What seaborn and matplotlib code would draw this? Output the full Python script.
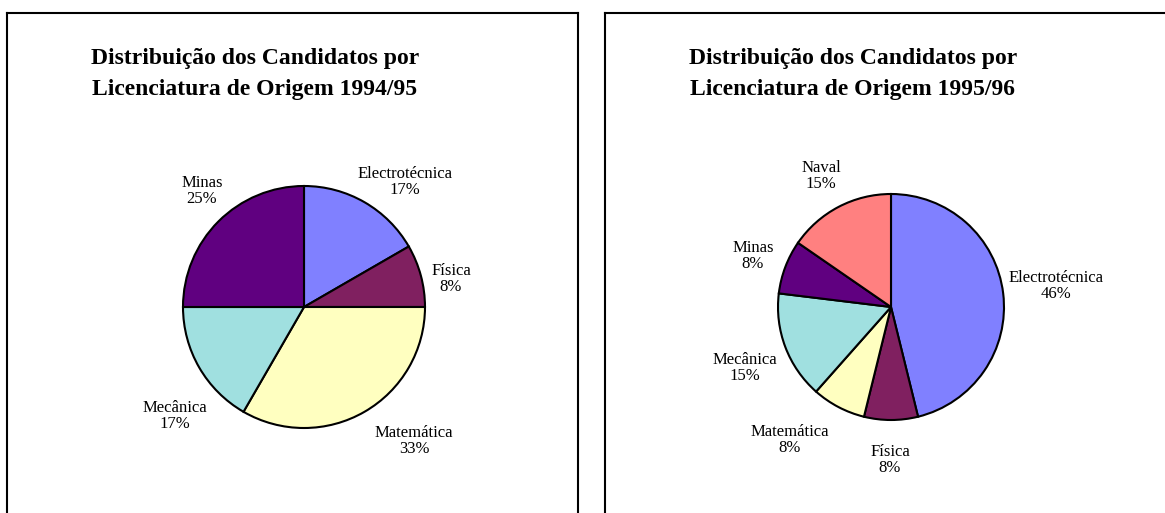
import matplotlib
matplotlib.use("Agg")
import matplotlib.pyplot as plt
import seaborn as sns

# dados
cursos_9495 = ['Electrotécnica', 'Física', 'Matemática', 'Mecânica', 'Minas']
cand_9495 = [2, 1, 4, 2, 3]
pct_9495 = ['17%', '8%', '33%', '17%', '25%']

cursos_9596 = ['Electrotécnica', 'Física', 'Matemática', 'Mecânica', 'Minas', 'Naval']
cand_9596 = [6, 1, 1, 2, 1, 2]
pct_9596 = ['46%', '8%', '8%', '15%', '8%', '15%']

titulos = ['Distribuição dos Candidatos por\nLicenciatura de Origem 1994/95',
           'Distribuição dos Candidatos por\nLicenciatura de Origem 1995/96']

# cores (paleta antiga do Excel)
cores = {'Electrotécnica': '#8080FF', 'Física': '#802060', 'Matemática': '#FFFFC0',
         'Mecânica': '#A0E0E0', 'Minas': '#600080', 'Naval': '#FF8080'}

sns.set_theme(style='white')
plt.rcParams['font.family'] = ['Liberation Serif', 'DejaVu Serif']

W, H = 1165, 513
fig = plt.figure(figsize=(W / 100, H / 100), dpi=100)

# layout em pixeis da imagem: caixa (x0, x1), centro do bolo, raio, posicoes das etiquetas
paineis = [
    dict(x0=7, x1=578, cx=304, cy=307, r=121,
         cursos=cursos_9495, vals=cand_9495, pct=pct_9495, titulo=titulos[0],
         etq=[(405, 182), (451, 279), (414, 441), (175, 416), (202, 191)]),
    dict(x0=605, x1=1180, cx=891, cy=307, r=113,
         cursos=cursos_9596, vals=cand_9596, pct=pct_9596, titulo=titulos[1],
         etq=[(1056, 286), (890, 460), (790, 440), (745, 368), (753, 256), (821, 176)]),
]

for p in paineis:
    top, bottom = 13, 520
    ax = fig.add_axes([p['x0'] / W, 1 - bottom / H, (p['x1'] - p['x0']) / W, (bottom - top) / H])
    ax.pie(p['vals'], colors=[cores[c] for c in p['cursos']], startangle=90, counterclock=False,
           center=(p['cx'], H - p['cy']), radius=p['r'], frame=True,
           wedgeprops=dict(edgecolor='black', linewidth=1.5))
    ax.set_xlim(p['x0'], p['x1'])
    ax.set_ylim(H - bottom, H - top)
    ax.set_aspect('auto')
    ax.set_xticks([])
    ax.set_yticks([])
    for s in ax.spines.values():
        s.set_color('black')
        s.set_linewidth(1.5)

    ax.text(p['x0'] + 248, H - 74, p['titulo'], ha='center', va='center', color='black',
            fontsize=17, fontweight='bold', linespacing=1.6)

    for curso, pc, (x, y) in zip(p['cursos'], p['pct'], p['etq']):
        ax.text(x, H - y, f'{curso}\n{pc}', ha='center', va='center',
                fontsize=12, linespacing=0.95, color='black')

fig.savefig('out.png', dpi=100)
